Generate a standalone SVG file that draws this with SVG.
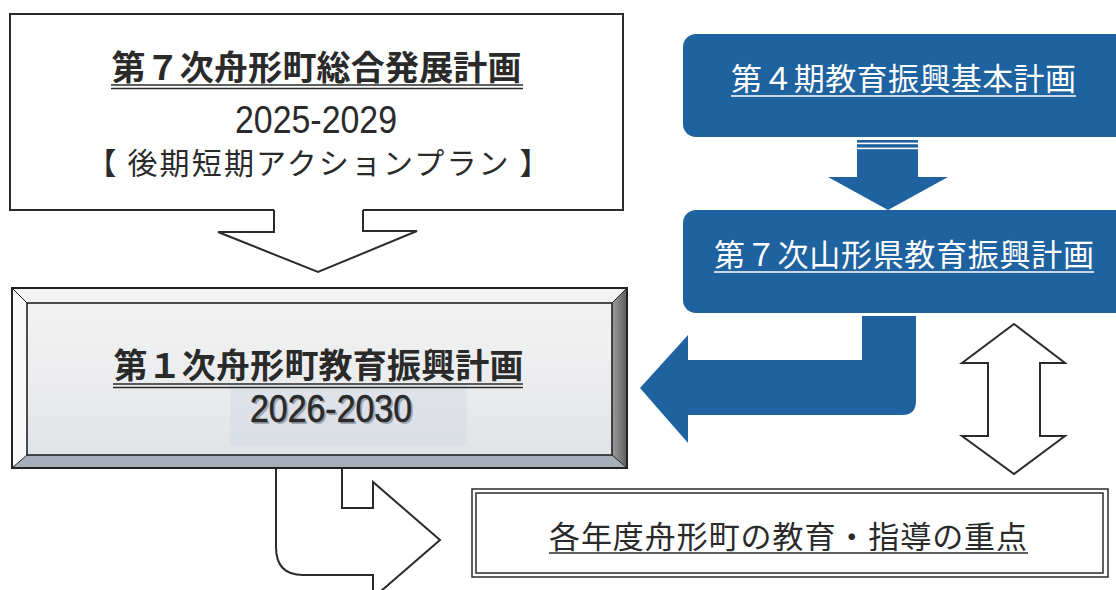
<svg xmlns="http://www.w3.org/2000/svg" width="1116" height="590" viewBox="0 0 1116 590">
<defs>
<style>
.jp{font-family:"Noto Sans CJK JP","Noto Sans CJK SC",sans-serif}
.num{font-family:"Liberation Sans","DejaVu Sans",sans-serif}
.box{fill:#fff;stroke:#2b2b2b;stroke-width:2}
.hollow{fill:#fff;stroke:#2b2b2b;stroke-width:2;stroke-linejoin:miter}
.blue{fill:#1e62a0}
.dark{fill:#2a2a2a}
.ul{stroke:#2a2a2a;stroke-width:1.5}
.wul{stroke:#fff;stroke-width:1.6}
.bevel{stroke:#222;stroke-width:1}
</style>
<linearGradient id="rgrad" x1="0" y1="0" x2="1" y2="0">
<stop offset="0" stop-color="#9c9c9c"/>
<stop offset="1" stop-color="#5e5e5e"/>
</linearGradient>
<linearGradient id="face" x1="0" y1="0" x2="0" y2="1">
<stop offset="0" stop-color="#f2f2f2"/>
<stop offset="0.6" stop-color="#eaebed"/>
<stop offset="1" stop-color="#e0e3e7"/>
</linearGradient>
</defs>

<g id="node-sogo7">
<rect class="box" x="10" y="14" width="613" height="196"/>
<text class="jp dark" x="316.5" y="80" font-size="34" font-weight="700" text-anchor="middle" textLength="410" lengthAdjust="spacing">第７次舟形町総合発展計画</text>
<line class="ul" x1="111" y1="85" x2="523" y2="85"/>
<line class="ul" x1="111" y1="88.5" x2="523" y2="88.5"/>
<text class="num dark" x="235" y="133" font-size="38" textLength="162" lengthAdjust="spacingAndGlyphs">2025-2029</text>
<text class="jp dark" x="318" y="174" font-size="30" text-anchor="middle" textLength="463" lengthAdjust="spacing">【 後期短期アクションプラン 】</text>
</g>

<g id="node-kyoiku1">
<polygon points="12,288 627,288 612,303 27,303" fill="#f3f3f3"/>
<polygon points="12,288 27,303 27,455 12,468" fill="#f8f8f8"/>
<polygon points="627,288 627,468 612,455 612,303" fill="url(#rgrad)"/>
<polygon points="12,468 27,455 612,455 627,468" fill="#a6afb9"/>
<rect x="27" y="303" width="585" height="152" fill="url(#face)"/>
<rect x="230" y="383" width="237" height="62" fill="#d3dae4" opacity="0.5"/>
<rect x="12" y="288" width="615" height="180" fill="none" stroke="#222" stroke-width="2"/>
<rect x="27" y="303" width="585" height="152" fill="none" stroke="#222" stroke-width="1.6"/>
<line class="bevel" x1="12" y1="288" x2="27" y2="303"/>
<line class="bevel" x1="627" y1="288" x2="612" y2="303"/>
<line class="bevel" x1="12" y1="468" x2="27" y2="455"/>
<line class="bevel" x1="627" y1="468" x2="612" y2="455"/>
<text class="jp dark" x="318.5" y="378" font-size="34" font-weight="700" text-anchor="middle" textLength="410" lengthAdjust="spacing">第１次舟形町教育振興計画</text>
<line class="ul" x1="113" y1="384" x2="523" y2="384"/>
<line class="ul" x1="113" y1="387.5" x2="523" y2="387.5"/>
<text class="num" x="252" y="424" font-size="38" fill="#a0a6ae" textLength="162" lengthAdjust="spacingAndGlyphs">2026-2030</text>
<text class="num dark" x="250" y="422" font-size="38" stroke="#2a2a2a" stroke-width="0.6" textLength="162" lengthAdjust="spacingAndGlyphs">2026-2030</text>
</g>

<g id="node-kihon4">
<rect class="blue" x="683" y="34" width="445" height="103" rx="13"/>
<text class="jp" x="903.5" y="90" font-size="31" fill="#fff" text-anchor="middle" textLength="345" lengthAdjust="spacing">第４期教育振興基本計画</text>
<line class="wul" x1="731" y1="96" x2="1076" y2="96"/>
</g>

<g id="node-yamagata7">
<rect class="blue" x="683" y="210" width="445" height="103" rx="13"/>
<text class="jp" x="904" y="266" font-size="31" fill="#fff" text-anchor="middle" textLength="380" lengthAdjust="spacing">第７次山形県教育振興計画</text>
<line class="wul" x1="714" y1="272" x2="1094" y2="272"/>
</g>

<g id="node-juten">
<rect x="472" y="489" width="636" height="88" fill="#fff" stroke="#2b2b2b" stroke-width="1.5"/>
<rect x="476" y="493" width="627" height="80" fill="none" stroke="#2b2b2b" stroke-width="1.5"/>
<text class="jp dark" x="788" y="548" font-size="31" text-anchor="middle" textLength="478" lengthAdjust="spacing">各年度舟形町の教育・指導の重点</text>
<line class="ul" x1="549" y1="553" x2="1028" y2="553"/>
</g>

<g id="connectors">
<polygon points="274,209 274,232 218,232 318,272 417,231 363,231 363,209" fill="#fff" stroke="none"/>
<polyline class="hollow" points="274,210 274,232 218,232 318,272 417,231 363,231 363,210"/>

<rect class="blue" x="857" y="140" width="61" height="38"/>
<rect x="857" y="142.6" width="61" height="1.6" fill="#fff"/>
<rect x="857" y="147.6" width="61" height="1.6" fill="#fff"/>
<polygon class="blue" points="828,177 948,177 888,210"/>

<path class="blue" d="M862,316 L916,316 L916,401 Q916,415 902,415 L688,415 L688,443 L640,388 L688,335 L688,360 L862,360 Z"/>

<polygon class="hollow" points="1014,324 1065,363 1040,363 1040,436 1065,436 1014,474 962,436 988,436 988,363 962,363"/>

<path class="hollow" d="M276,469 L276,547 Q276,575 303,575 L373,575 L373,598 L440,540 L373,482 L373,508 L342,508 L342,469"/>
</g>
</svg>
